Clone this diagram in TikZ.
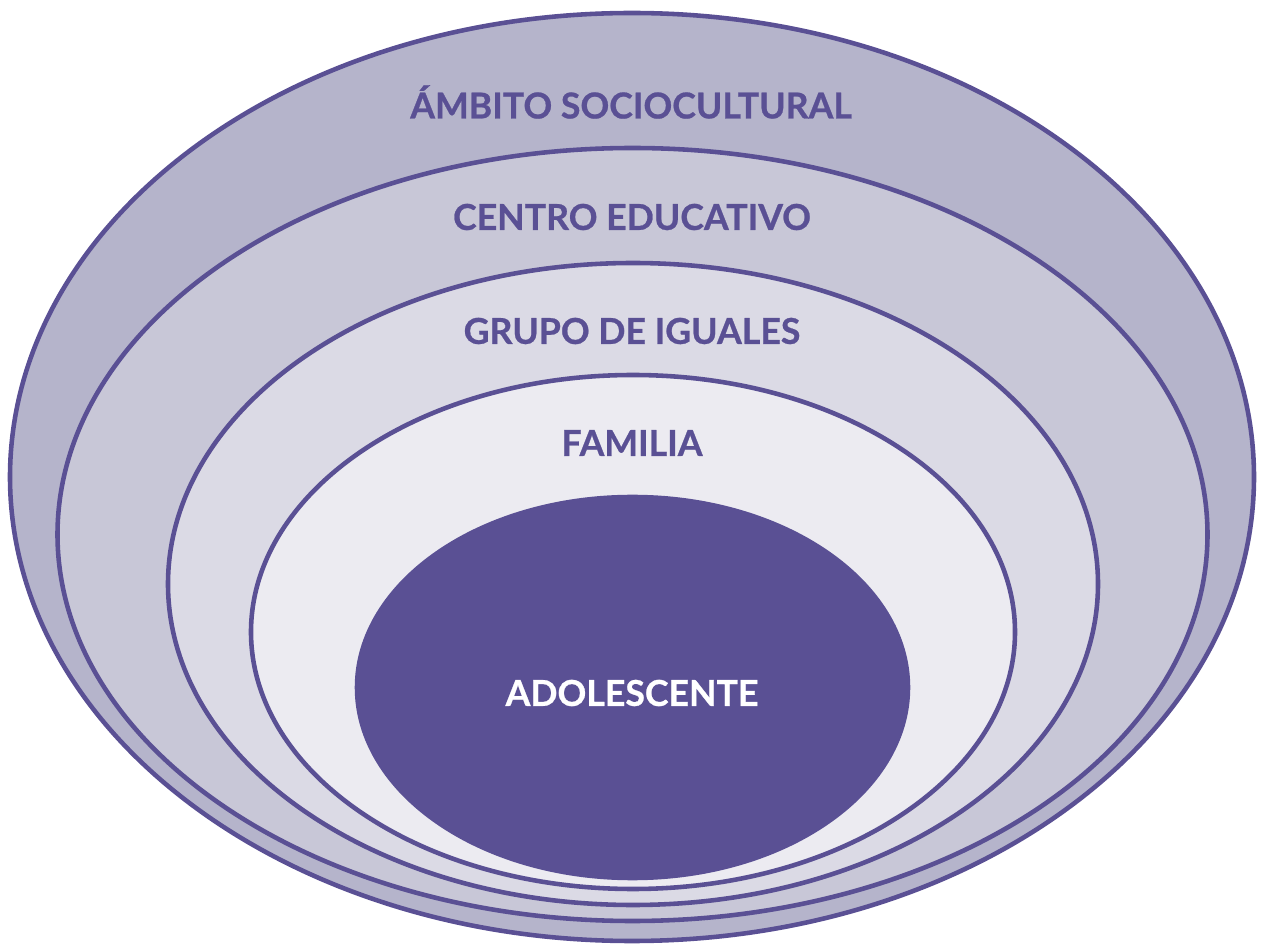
\documentclass[tikz,border=0pt]{standalone}
\usepackage{fontspec}
\setmainfont{Lato}[BoldFeatures={FakeBold=0.7}]
\definecolor{ringline}{HTML}{5A5094}
\definecolor{ringA}{HTML}{B5B4CB}
\definecolor{ringB}{HTML}{C8C7D7}
\definecolor{ringC}{HTML}{DBDAE5}
\definecolor{ringD}{HTML}{ECEBF1}
\tikzset{
  ring/.style={draw=ringline,line width=2.6pt},
  ringlabel/.style={font=\fontsize{20.3}{22}\selectfont\bfseries,text=ringline,anchor=center},
}
\newcommand{\ring}[5]{\fill[#5] (#1,#2) ellipse [x radius=#3, y radius=#4]; \draw[ring] (#1,#2) ellipse [x radius=#3, y radius=#4];}
\begin{document}
\begin{tikzpicture}[x=0.02cm,y=-0.02cm]
    \useasboundingbox (0,0) rectangle (1262,945);
    \ring{632}{477}{622}{464}{ringA}
    \ring{632.5}{534.5}{575}{386.5}{ringB}
    \ring{633}{584}{465}{321}{ringC}
    \ring{633}{632}{382}{257}{ringD}
    \ring{632.5}{687.5}{275.5}{190.5}{ringline}
    \node[ringlabel] (ambito) at (631,102) {ÁMBITO SOCIOCULTURAL};
    \node[ringlabel] (centro) at (632,217) {CENTRO EDUCATIVO};
    \node[ringlabel] (grupo) at (632,331) {GRUPO DE IGUALES};
    \node[ringlabel] (familia) at (632,443) {FAMILIA};
    \node[ringlabel,text=white] (adolescente) at (632,693) {ADOLESCENTE};
\end{tikzpicture}
\end{document}
